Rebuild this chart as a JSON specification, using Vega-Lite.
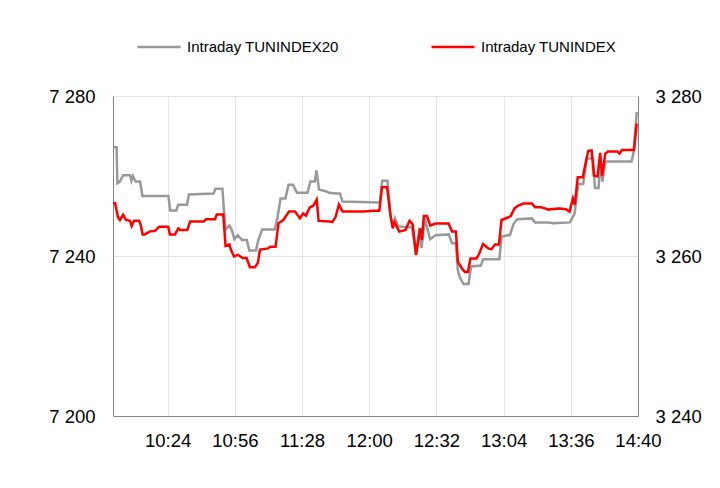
{
  "$schema": "https://vega.github.io/schema/vega-lite/v6.json",
  "width": 525,
  "height": 320,
  "autosize": {"type": "none"},
  "padding": {"left": 113, "top": 96, "right": 82, "bottom": 72},
  "background": "white",
  "config": {
    "font": "Liberation Sans",
    "view": {"stroke": null},
    "axis": {
      "labelFont": "Liberation Sans",
      "labelFontSize": 18.5,
      "labelColor": "#000000",
      "ticks": false,
      "domainColor": "#868686",
      "domainWidth": 1,
      "gridColor": "#e6e6e6",
      "gridWidth": 1,
      "title": null
    },
    "legend": {
      "orient": "none",
      "legendX": 23,
      "legendY": -72,
      "direction": "horizontal",
      "symbolType": "stroke",
      "symbolSize": 1849,
      "symbolStrokeWidth": 2.5,
      "labelFont": "Liberation Sans",
      "labelFontSize": 15,
      "labelColor": "#000000",
      "labelOffset": 5,
      "columnPadding": 87,
      "title": null
    }
  },
  "data": {
    "values": [
      {"i": 0, "s": "Intraday TUNINDEX", "v": 7253.2},
      {"i": 1.0, "s": "Intraday TUNINDEX", "v": 7253.2},
      {"i": 2.4, "s": "Intraday TUNINDEX", "v": 7249.6},
      {"i": 3.3, "s": "Intraday TUNINDEX", "v": 7249.0},
      {"i": 4.8, "s": "Intraday TUNINDEX", "v": 7250.3},
      {"i": 6.2, "s": "Intraday TUNINDEX", "v": 7249.0},
      {"i": 8.1, "s": "Intraday TUNINDEX", "v": 7248.8},
      {"i": 8.9, "s": "Intraday TUNINDEX", "v": 7247.5},
      {"i": 10.0, "s": "Intraday TUNINDEX", "v": 7248.8},
      {"i": 12.4, "s": "Intraday TUNINDEX", "v": 7248.8},
      {"i": 13.2, "s": "Intraday TUNINDEX", "v": 7247.8},
      {"i": 14.1, "s": "Intraday TUNINDEX", "v": 7245.4},
      {"i": 15.2, "s": "Intraday TUNINDEX", "v": 7245.4},
      {"i": 17.3, "s": "Intraday TUNINDEX", "v": 7246.1},
      {"i": 20.0, "s": "Intraday TUNINDEX", "v": 7246.3},
      {"i": 22.0, "s": "Intraday TUNINDEX", "v": 7247.3},
      {"i": 26.3, "s": "Intraday TUNINDEX", "v": 7247.3},
      {"i": 27.1, "s": "Intraday TUNINDEX", "v": 7245.4},
      {"i": 29.5, "s": "Intraday TUNINDEX", "v": 7245.4},
      {"i": 31.1, "s": "Intraday TUNINDEX", "v": 7246.9},
      {"i": 31.9, "s": "Intraday TUNINDEX", "v": 7246.5},
      {"i": 35.4, "s": "Intraday TUNINDEX", "v": 7246.5},
      {"i": 36.7, "s": "Intraday TUNINDEX", "v": 7248.6},
      {"i": 43.3, "s": "Intraday TUNINDEX", "v": 7248.6},
      {"i": 44.3, "s": "Intraday TUNINDEX", "v": 7249.2},
      {"i": 48.6, "s": "Intraday TUNINDEX", "v": 7249.2},
      {"i": 49.4, "s": "Intraday TUNINDEX", "v": 7250.4},
      {"i": 52.5, "s": "Intraday TUNINDEX", "v": 7250.4},
      {"i": 53.6, "s": "Intraday TUNINDEX", "v": 7242.5},
      {"i": 55.4, "s": "Intraday TUNINDEX", "v": 7242.9},
      {"i": 56.2, "s": "Intraday TUNINDEX", "v": 7241.5},
      {"i": 57.6, "s": "Intraday TUNINDEX", "v": 7239.9},
      {"i": 59.5, "s": "Intraday TUNINDEX", "v": 7240.3},
      {"i": 61.7, "s": "Intraday TUNINDEX", "v": 7239.5},
      {"i": 63.6, "s": "Intraday TUNINDEX", "v": 7239.5},
      {"i": 65.2, "s": "Intraday TUNINDEX", "v": 7237.2},
      {"i": 67.6, "s": "Intraday TUNINDEX", "v": 7237.2},
      {"i": 69.0, "s": "Intraday TUNINDEX", "v": 7238.3},
      {"i": 70.0, "s": "Intraday TUNINDEX", "v": 7241.6},
      {"i": 73.8, "s": "Intraday TUNINDEX", "v": 7241.9},
      {"i": 74.8, "s": "Intraday TUNINDEX", "v": 7242.3},
      {"i": 77.4, "s": "Intraday TUNINDEX", "v": 7242.3},
      {"i": 78.8, "s": "Intraday TUNINDEX", "v": 7248.2},
      {"i": 81.1, "s": "Intraday TUNINDEX", "v": 7249.0},
      {"i": 83.8, "s": "Intraday TUNINDEX", "v": 7251.1},
      {"i": 86.7, "s": "Intraday TUNINDEX", "v": 7251.1},
      {"i": 89.0, "s": "Intraday TUNINDEX", "v": 7249.4},
      {"i": 90.5, "s": "Intraday TUNINDEX", "v": 7250.6},
      {"i": 91.9, "s": "Intraday TUNINDEX", "v": 7250.1},
      {"i": 93.6, "s": "Intraday TUNINDEX", "v": 7252.1},
      {"i": 95.4, "s": "Intraday TUNINDEX", "v": 7252.6},
      {"i": 97.0, "s": "Intraday TUNINDEX", "v": 7254.1},
      {"i": 97.9, "s": "Intraday TUNINDEX", "v": 7248.8},
      {"i": 102.9, "s": "Intraday TUNINDEX", "v": 7248.6},
      {"i": 104.5, "s": "Intraday TUNINDEX", "v": 7248.5},
      {"i": 106.0, "s": "Intraday TUNINDEX", "v": 7249.8},
      {"i": 107.6, "s": "Intraday TUNINDEX", "v": 7252.9},
      {"i": 109.3, "s": "Intraday TUNINDEX", "v": 7251.1},
      {"i": 119.5, "s": "Intraday TUNINDEX", "v": 7251.1},
      {"i": 124.0, "s": "Intraday TUNINDEX", "v": 7251.3},
      {"i": 126.8, "s": "Intraday TUNINDEX", "v": 7251.3},
      {"i": 128.1, "s": "Intraday TUNINDEX", "v": 7257.2},
      {"i": 130.5, "s": "Intraday TUNINDEX", "v": 7257.2},
      {"i": 132.1, "s": "Intraday TUNINDEX", "v": 7250.3},
      {"i": 133.2, "s": "Intraday TUNINDEX", "v": 7246.9},
      {"i": 134.1, "s": "Intraday TUNINDEX", "v": 7248.4},
      {"i": 136.3, "s": "Intraday TUNINDEX", "v": 7246.1},
      {"i": 139.3, "s": "Intraday TUNINDEX", "v": 7246.5},
      {"i": 141.2, "s": "Intraday TUNINDEX", "v": 7248.8},
      {"i": 142.7, "s": "Intraday TUNINDEX", "v": 7247.9},
      {"i": 144.3, "s": "Intraday TUNINDEX", "v": 7240.3},
      {"i": 146.3, "s": "Intraday TUNINDEX", "v": 7246.9},
      {"i": 147.1, "s": "Intraday TUNINDEX", "v": 7244.0},
      {"i": 148.0, "s": "Intraday TUNINDEX", "v": 7250.0},
      {"i": 149.5, "s": "Intraday TUNINDEX", "v": 7250.0},
      {"i": 151.1, "s": "Intraday TUNINDEX", "v": 7247.6},
      {"i": 153.5, "s": "Intraday TUNINDEX", "v": 7248.1},
      {"i": 159.8, "s": "Intraday TUNINDEX", "v": 7248.1},
      {"i": 161.4, "s": "Intraday TUNINDEX", "v": 7246.1},
      {"i": 163.3, "s": "Intraday TUNINDEX", "v": 7246.1},
      {"i": 164.2, "s": "Intraday TUNINDEX", "v": 7238.6},
      {"i": 166.1, "s": "Intraday TUNINDEX", "v": 7236.9},
      {"i": 167.6, "s": "Intraday TUNINDEX", "v": 7236.0},
      {"i": 169.0, "s": "Intraday TUNINDEX", "v": 7236.0},
      {"i": 170.2, "s": "Intraday TUNINDEX", "v": 7239.4},
      {"i": 173.1, "s": "Intraday TUNINDEX", "v": 7239.4},
      {"i": 174.3, "s": "Intraday TUNINDEX", "v": 7240.5},
      {"i": 176.2, "s": "Intraday TUNINDEX", "v": 7243.0},
      {"i": 178.7, "s": "Intraday TUNINDEX", "v": 7241.9},
      {"i": 180.3, "s": "Intraday TUNINDEX", "v": 7241.7},
      {"i": 181.9, "s": "Intraday TUNINDEX", "v": 7242.9},
      {"i": 183.8, "s": "Intraday TUNINDEX", "v": 7242.9},
      {"i": 185.0, "s": "Intraday TUNINDEX", "v": 7249.0},
      {"i": 187.5, "s": "Intraday TUNINDEX", "v": 7249.5},
      {"i": 189.3, "s": "Intraday TUNINDEX", "v": 7249.9},
      {"i": 191.2, "s": "Intraday TUNINDEX", "v": 7251.9},
      {"i": 193.0, "s": "Intraday TUNINDEX", "v": 7252.6},
      {"i": 195.4, "s": "Intraday TUNINDEX", "v": 7253.1},
      {"i": 199.5, "s": "Intraday TUNINDEX", "v": 7253.1},
      {"i": 201.0, "s": "Intraday TUNINDEX", "v": 7252.2},
      {"i": 203.8, "s": "Intraday TUNINDEX", "v": 7252.2},
      {"i": 205.7, "s": "Intraday TUNINDEX", "v": 7251.9},
      {"i": 207.3, "s": "Intraday TUNINDEX", "v": 7251.6},
      {"i": 210.5, "s": "Intraday TUNINDEX", "v": 7251.8},
      {"i": 212.9, "s": "Intraday TUNINDEX", "v": 7251.9},
      {"i": 215.7, "s": "Intraday TUNINDEX", "v": 7251.7},
      {"i": 217.4, "s": "Intraday TUNINDEX", "v": 7251.1},
      {"i": 219.0, "s": "Intraday TUNINDEX", "v": 7254.4},
      {"i": 219.9, "s": "Intraday TUNINDEX", "v": 7252.8},
      {"i": 221.3, "s": "Intraday TUNINDEX", "v": 7259.7},
      {"i": 223.7, "s": "Intraday TUNINDEX", "v": 7259.7},
      {"i": 225.5, "s": "Intraday TUNINDEX", "v": 7264.4},
      {"i": 226.3, "s": "Intraday TUNINDEX", "v": 7266.3},
      {"i": 227.9, "s": "Intraday TUNINDEX", "v": 7266.4},
      {"i": 229.0, "s": "Intraday TUNINDEX", "v": 7260.1},
      {"i": 230.7, "s": "Intraday TUNINDEX", "v": 7259.9},
      {"i": 232.0, "s": "Intraday TUNINDEX", "v": 7265.8},
      {"i": 232.9, "s": "Intraday TUNINDEX", "v": 7260.0},
      {"i": 234.4, "s": "Intraday TUNINDEX", "v": 7265.6},
      {"i": 235.7, "s": "Intraday TUNINDEX", "v": 7266.1},
      {"i": 240.2, "s": "Intraday TUNINDEX", "v": 7266.1},
      {"i": 241.2, "s": "Intraday TUNINDEX", "v": 7265.6},
      {"i": 242.4, "s": "Intraday TUNINDEX", "v": 7266.5},
      {"i": 248.1, "s": "Intraday TUNINDEX", "v": 7266.5},
      {"i": 249.4, "s": "Intraday TUNINDEX", "v": 7273.1},

      {"i": 0, "s": "Intraday TUNINDEX20", "v": 3273.6},
      {"i": 1.7, "s": "Intraday TUNINDEX20", "v": 3273.6},
      {"i": 2.1, "s": "Intraday TUNINDEX20", "v": 3269.1},
      {"i": 3.3, "s": "Intraday TUNINDEX20", "v": 3269.3},
      {"i": 4.8, "s": "Intraday TUNINDEX20", "v": 3270.1},
      {"i": 8.1, "s": "Intraday TUNINDEX20", "v": 3270.1},
      {"i": 8.8, "s": "Intraday TUNINDEX20", "v": 3269.4},
      {"i": 9.5, "s": "Intraday TUNINDEX20", "v": 3270.0},
      {"i": 10.7, "s": "Intraday TUNINDEX20", "v": 3269.3},
      {"i": 12.9, "s": "Intraday TUNINDEX20", "v": 3269.3},
      {"i": 14.0, "s": "Intraday TUNINDEX20", "v": 3267.5},
      {"i": 26.4, "s": "Intraday TUNINDEX20", "v": 3267.5},
      {"i": 27.2, "s": "Intraday TUNINDEX20", "v": 3265.7},
      {"i": 30.2, "s": "Intraday TUNINDEX20", "v": 3265.7},
      {"i": 31.0, "s": "Intraday TUNINDEX20", "v": 3266.4},
      {"i": 35.2, "s": "Intraday TUNINDEX20", "v": 3266.4},
      {"i": 36.2, "s": "Intraday TUNINDEX20", "v": 3267.7},
      {"i": 47.9, "s": "Intraday TUNINDEX20", "v": 3267.8},
      {"i": 48.8, "s": "Intraday TUNINDEX20", "v": 3268.4},
      {"i": 52.1, "s": "Intraday TUNINDEX20", "v": 3268.4},
      {"i": 53.5, "s": "Intraday TUNINDEX20", "v": 3263.3},
      {"i": 55.4, "s": "Intraday TUNINDEX20", "v": 3263.8},
      {"i": 56.5, "s": "Intraday TUNINDEX20", "v": 3263.3},
      {"i": 57.8, "s": "Intraday TUNINDEX20", "v": 3262.1},
      {"i": 59.4, "s": "Intraday TUNINDEX20", "v": 3262.6},
      {"i": 61.4, "s": "Intraday TUNINDEX20", "v": 3262.0},
      {"i": 63.7, "s": "Intraday TUNINDEX20", "v": 3262.0},
      {"i": 64.9, "s": "Intraday TUNINDEX20", "v": 3260.7},
      {"i": 68.1, "s": "Intraday TUNINDEX20", "v": 3260.7},
      {"i": 69.2, "s": "Intraday TUNINDEX20", "v": 3262.0},
      {"i": 71.0, "s": "Intraday TUNINDEX20", "v": 3263.3},
      {"i": 77.0, "s": "Intraday TUNINDEX20", "v": 3263.3},
      {"i": 78.4, "s": "Intraday TUNINDEX20", "v": 3264.9},
      {"i": 79.8, "s": "Intraday TUNINDEX20", "v": 3267.2},
      {"i": 82.1, "s": "Intraday TUNINDEX20", "v": 3267.2},
      {"i": 83.6, "s": "Intraday TUNINDEX20", "v": 3268.9},
      {"i": 85.7, "s": "Intraday TUNINDEX20", "v": 3268.9},
      {"i": 87.6, "s": "Intraday TUNINDEX20", "v": 3267.9},
      {"i": 92.6, "s": "Intraday TUNINDEX20", "v": 3267.9},
      {"i": 94.0, "s": "Intraday TUNINDEX20", "v": 3269.3},
      {"i": 96.1, "s": "Intraday TUNINDEX20", "v": 3269.3},
      {"i": 96.9, "s": "Intraday TUNINDEX20", "v": 3270.7},
      {"i": 98.1, "s": "Intraday TUNINDEX20", "v": 3268.3},
      {"i": 101.3, "s": "Intraday TUNINDEX20", "v": 3268.1},
      {"i": 102.9, "s": "Intraday TUNINDEX20", "v": 3267.9},
      {"i": 106.5, "s": "Intraday TUNINDEX20", "v": 3267.8},
      {"i": 108.1, "s": "Intraday TUNINDEX20", "v": 3267.8},
      {"i": 109.3, "s": "Intraday TUNINDEX20", "v": 3266.8},
      {"i": 127.1, "s": "Intraday TUNINDEX20", "v": 3266.7},
      {"i": 128.2, "s": "Intraday TUNINDEX20", "v": 3269.4},
      {"i": 130.7, "s": "Intraday TUNINDEX20", "v": 3269.4},
      {"i": 132.1, "s": "Intraday TUNINDEX20", "v": 3265.1},
      {"i": 133.2, "s": "Intraday TUNINDEX20", "v": 3263.7},
      {"i": 134.2, "s": "Intraday TUNINDEX20", "v": 3264.7},
      {"i": 135.8, "s": "Intraday TUNINDEX20", "v": 3263.7},
      {"i": 140.5, "s": "Intraday TUNINDEX20", "v": 3263.6},
      {"i": 142.4, "s": "Intraday TUNINDEX20", "v": 3263.6},
      {"i": 144.3, "s": "Intraday TUNINDEX20", "v": 3260.1},
      {"i": 145.9, "s": "Intraday TUNINDEX20", "v": 3263.5},
      {"i": 146.9, "s": "Intraday TUNINDEX20", "v": 3261.0},
      {"i": 148.5, "s": "Intraday TUNINDEX20", "v": 3264.7},
      {"i": 151.0, "s": "Intraday TUNINDEX20", "v": 3262.1},
      {"i": 153.6, "s": "Intraday TUNINDEX20", "v": 3262.6},
      {"i": 159.9, "s": "Intraday TUNINDEX20", "v": 3262.7},
      {"i": 161.4, "s": "Intraday TUNINDEX20", "v": 3261.6},
      {"i": 163.3, "s": "Intraday TUNINDEX20", "v": 3261.6},
      {"i": 164.2, "s": "Intraday TUNINDEX20", "v": 3258.2},
      {"i": 165.2, "s": "Intraday TUNINDEX20", "v": 3257.3},
      {"i": 166.9, "s": "Intraday TUNINDEX20", "v": 3256.5},
      {"i": 169.3, "s": "Intraday TUNINDEX20", "v": 3256.5},
      {"i": 170.5, "s": "Intraday TUNINDEX20", "v": 3258.7},
      {"i": 175.2, "s": "Intraday TUNINDEX20", "v": 3258.8},
      {"i": 176.2, "s": "Intraday TUNINDEX20", "v": 3259.6},
      {"i": 184.0, "s": "Intraday TUNINDEX20", "v": 3259.6},
      {"i": 185.0, "s": "Intraday TUNINDEX20", "v": 3262.4},
      {"i": 187.9, "s": "Intraday TUNINDEX20", "v": 3262.6},
      {"i": 189.0, "s": "Intraday TUNINDEX20", "v": 3262.6},
      {"i": 190.7, "s": "Intraday TUNINDEX20", "v": 3264.0},
      {"i": 192.6, "s": "Intraday TUNINDEX20", "v": 3264.6},
      {"i": 199.4, "s": "Intraday TUNINDEX20", "v": 3264.7},
      {"i": 201.0, "s": "Intraday TUNINDEX20", "v": 3264.2},
      {"i": 207.3, "s": "Intraday TUNINDEX20", "v": 3264.2},
      {"i": 209.7, "s": "Intraday TUNINDEX20", "v": 3264.1},
      {"i": 217.6, "s": "Intraday TUNINDEX20", "v": 3264.2},
      {"i": 219.8, "s": "Intraday TUNINDEX20", "v": 3265.3},
      {"i": 221.5, "s": "Intraday TUNINDEX20", "v": 3269.0},
      {"i": 223.9, "s": "Intraday TUNINDEX20", "v": 3269.0},
      {"i": 225.6, "s": "Intraday TUNINDEX20", "v": 3272.2},
      {"i": 228.6, "s": "Intraday TUNINDEX20", "v": 3272.2},
      {"i": 229.5, "s": "Intraday TUNINDEX20", "v": 3268.5},
      {"i": 231.2, "s": "Intraday TUNINDEX20", "v": 3268.5},
      {"i": 232.1, "s": "Intraday TUNINDEX20", "v": 3272.1},
      {"i": 233.0, "s": "Intraday TUNINDEX20", "v": 3269.3},
      {"i": 234.5, "s": "Intraday TUNINDEX20", "v": 3271.8},
      {"i": 246.9, "s": "Intraday TUNINDEX20", "v": 3271.8},
      {"i": 247.8, "s": "Intraday TUNINDEX20", "v": 3272.8},
      {"i": 249.4, "s": "Intraday TUNINDEX20", "v": 3278.0}
    ]
  },
  "encoding": {
    "x": {
      "field": "i",
      "type": "quantitative",
      "scale": {"domain": [0, 250], "nice": false, "zero": false},
      "axis": {
        "values": [26, 58, 90, 122, 154, 186, 218, 250],
        "labelExpr": "['10:24','10:56','11:28','12:00','12:32','13:04','13:36','14:40'][(datum.value - 26) / 32]",
        "grid": true,
        "labelPadding": 15,
        "labelFlush": false
      }
    },
    "color": {
      "field": "s",
      "type": "nominal",
      "scale": {
        "domain": ["Intraday TUNINDEX20", "Intraday TUNINDEX"],
        "range": ["#999999", "#ff0000"]
      }
    }
  },
  "layer": [
    {
      "transform": [{"filter": "datum.s === 'Intraday TUNINDEX20'"}],
      "mark": {"type": "line", "strokeWidth": 2.5},
      "encoding": {
        "y": {
          "field": "v",
          "type": "quantitative",
          "scale": {"domain": [3240, 3280], "nice": false, "zero": false},
          "axis": {
            "orient": "right",
            "values": [3240, 3260, 3280],
            "grid": false,
            "labelPadding": 17,
            "labelExpr": "replace(format(datum.value, ','), ',', ' ')"
          }
        }
      }
    },
    {
      "transform": [{"filter": "datum.s === 'Intraday TUNINDEX'"}],
      "mark": {"type": "line", "strokeWidth": 2.5},
      "encoding": {
        "y": {
          "field": "v",
          "type": "quantitative",
          "scale": {"domain": [7200, 7280], "nice": false, "zero": false},
          "axis": {
            "orient": "left",
            "values": [7200, 7240, 7280],
            "grid": true,
            "labelPadding": 18,
            "labelExpr": "replace(format(datum.value, ','), ',', ' ')"
          }
        }
      }
    }
  ],
  "resolve": {"scale": {"y": "independent"}}
}
